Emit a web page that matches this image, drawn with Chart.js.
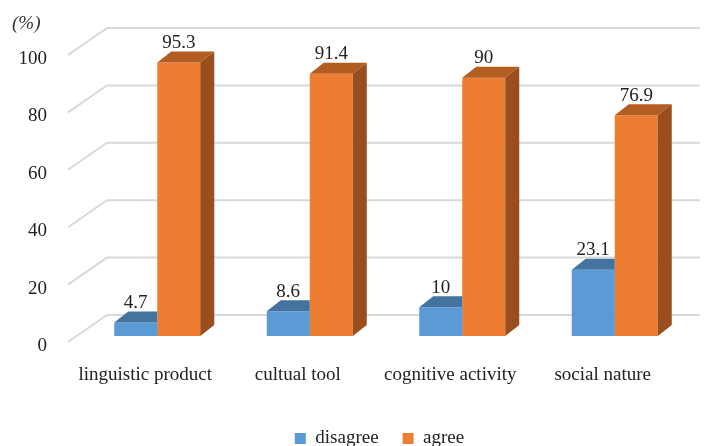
<!DOCTYPE html>
<html>
<head>
<meta charset="utf-8">
<script src="https://cdn.jsdelivr.net/npm/chart.js@4"></script>
<style>
  html, body { margin: 0; padding: 0; background: #fff; }
  #wrap { width: 709px; height: 446px; }
</style>
</head>
<body>
<div id="wrap"><canvas id="myChart"></canvas></div>
<script>
var categories = ['linguistic product', 'cultual tool', 'cognitive activity', 'social nature'];
var disagree = [4.7, 8.6, 10, 23.1];
var agree = [95.3, 91.4, 90, 76.9];
var yTicks = [0, 20, 40, 60, 80, 100];

var serif = '"Liberation Serif", "DejaVu Serif", serif';
var depth = { dx: 14, dy: 11 };

// 3d faces, back wall grid and value labels
var bars3d = {
  id: 'bars3d',
  afterLayout: function(chart) {
    // legend sits a bit right of centre in the original
    chart.legend.left += 34;
    chart.legend.right += 34;
  },
  beforeDatasetsDraw: function(chart) {
    var ctx = chart.ctx, y = chart.scales.y, area = chart.chartArea;
    ctx.save();
    ctx.strokeStyle = '#d9d9d9';
    ctx.lineWidth = 2;
    yTicks.forEach(function(v) {
      var p = y.getPixelForValue(v);
      ctx.beginPath();
      ctx.moveTo(area.left - 13, p + 6);
      ctx.lineTo(area.left + 26, p - 21);
      ctx.lineTo(700, p - 21);
      ctx.stroke();
    });
    ctx.fillStyle = '#333';
    ctx.font = 'italic 19px ' + serif;
    ctx.textAlign = 'left';
    ctx.textBaseline = 'middle';
    ctx.fillText('(%)', 12, 24);
    ctx.restore();
  },
  afterDatasetDraw: function(chart, args) {
    var ctx = chart.ctx;
    var ds = chart.data.datasets[args.index];
    args.meta.data.forEach(function(bar) {
      var l = bar.x - bar.width / 2, r = bar.x + bar.width / 2;
      var t = bar.y, b = bar.base;
      ctx.save();
      if (ds.hiddenSide) {
        // the next bar stands in front of this one's right part
        ctx.beginPath();
        ctx.rect(0, 0, r, chart.height);
        ctx.clip();
      }
      ctx.fillStyle = ds.topColor;
      ctx.beginPath();
      ctx.moveTo(l, t);
      ctx.lineTo(r, t);
      ctx.lineTo(r + depth.dx, t - depth.dy);
      ctx.lineTo(l + depth.dx, t - depth.dy);
      ctx.closePath();
      ctx.fill();
      ctx.fillStyle = ds.sideColor;
      ctx.beginPath();
      ctx.moveTo(r, t);
      ctx.lineTo(r + depth.dx, t - depth.dy);
      ctx.lineTo(r + depth.dx, b - depth.dy);
      ctx.lineTo(r, b);
      ctx.closePath();
      ctx.fill();
      ctx.restore();
    });
  },
  afterDatasetsDraw: function(chart) {
    var ctx = chart.ctx;
    ctx.save();
    ctx.fillStyle = '#222';
    ctx.font = '19px ' + serif;
    ctx.textAlign = 'center';
    ctx.textBaseline = 'bottom';
    chart.data.datasets.forEach(function(ds, i) {
      chart.getDatasetMeta(i).data.forEach(function(bar, j) {
        ctx.fillText(String(ds.data[j]), bar.x, bar.y - 10);
      });
    });
    ctx.restore();
  }
};

var ctx = document.getElementById('myChart').getContext('2d');
var myChart = new Chart(ctx, {
  type: 'bar',
  data: {
    labels: categories,
    datasets: [
      { label: 'disagree', data: disagree, backgroundColor: '#5b9bd5', topColor: '#44739f', sideColor: '#3b6690', hiddenSide: true },
      { label: 'agree', data: agree, backgroundColor: '#ed7d31', topColor: '#b35d22', sideColor: '#9a4d1d' }
    ]
  },
  options: {
    responsive: true,
    maintainAspectRatio: false,
    animation: false,
    layout: { padding: { top: 49, right: 18, left: 0, bottom: -12 } },
    datasets: { bar: { barPercentage: 1, categoryPercentage: 0.564 } },
    scales: {
      x: {
        grid: { display: false },
        border: { display: false },
        ticks: { color: '#222', font: { family: serif, size: 19 }, padding: 20, labelOffset: -12, maxRotation: 0, autoSkip: false },
        afterFit: function(s) { s.height = 69; }
      },
      y: {
        min: 0, max: 100,
        grid: { display: false, drawTicks: false },
        border: { display: false },
        afterBuildTicks: function(s) { s.ticks = yTicks.map(function(v) { return { value: v }; }); },
        afterFit: function(s) { s.width = 81; },
        ticks: { color: '#222', font: { family: serif, size: 19 }, padding: 34, labelOffset: 10 }
      }
    },
    plugins: {
      legend: {
        position: 'bottom',
        labels: { color: '#222', font: { family: serif, size: 19 }, boxWidth: 11, boxHeight: 11, padding: 24 }
      },
      tooltip: { enabled: false }
    }
  },
  plugins: [bars3d]
});
</script>
</body>
</html>
